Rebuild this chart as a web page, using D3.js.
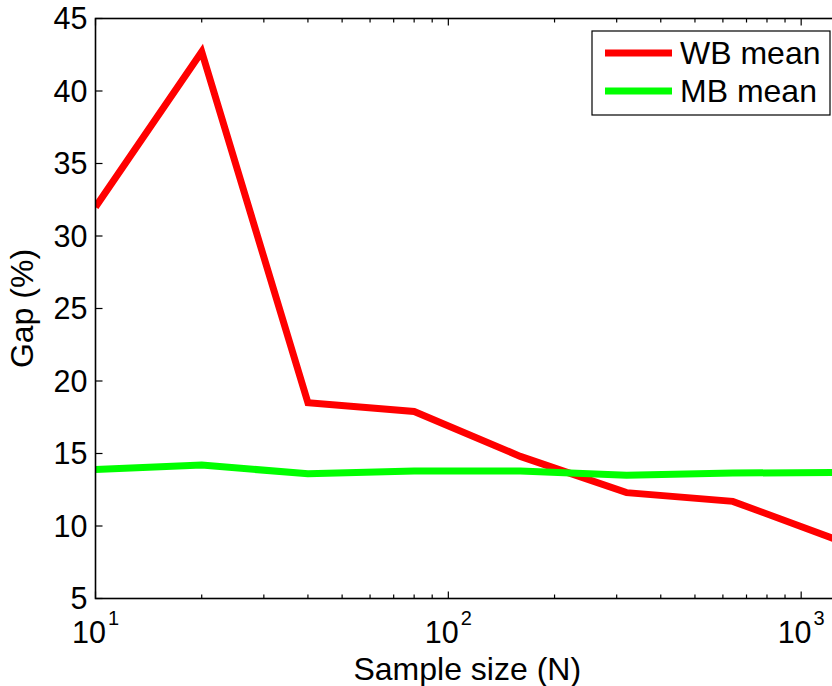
<!DOCTYPE html>
<html>
<head>
<meta charset="utf-8">
<script src="https://cdn.jsdelivr.net/npm/d3@7"></script>
<style>
    body { margin: 0; background: #fff; }
    svg { display: block; font-family: "Liberation Sans", Arial, sans-serif; }
    .tick-label { font-size: 30.5px; fill: #000; }
    .axis-title { font-size: 32px; fill: #000; }
    .legend-text { font-size: 32px; fill: #000; }
</style>
</head>
<body>
<div id="chart"></div>
<script>
const sampleSizes = [10, 20, 40, 80, 160, 320, 640, 1280];
const wbMean = [32.0, 42.7, 18.5, 17.9, 14.8, 12.3, 11.7, 9.0];
const mbMean = [13.9, 14.2, 13.6, 13.8, 13.8, 13.5, 13.65, 13.7];
const yTicks = [5, 10, 15, 20, 25, 30, 35, 40, 45];
const xMajorTicks = [10, 100, 1000];
const seriesNames = ["WB mean", "MB mean"];
const seriesColors = ["#ff0000", "#00ff00"];

const width = 832;
const height = 686;
const margin = { top: 18.5, right: -7, bottom: 87.5, left: 95.5 };

const svg = d3.select("#chart")
    .append("svg")
    .attr("width", width)
    .attr("height", height);

const x = d3.scaleLog()
    .domain([10, 1280])
    .range([margin.left, width - margin.right]);

const y = d3.scaleLinear()
    .domain([5, 45])
    .range([height - margin.bottom, margin.top]);

const x0 = x.range()[0], x1 = x.range()[1];
const y0 = y.range()[0], y1 = y.range()[1];

svg.append("clipPath")
    .attr("id", "plot-clip")
    .append("rect")
    .attr("x", x0)
    .attr("y", y1)
    .attr("width", x1 - x0)
    .attr("height", y0 - y1);

// minor + major x ticks on bottom and top (pointing inward)
const xMinor = [];
for (let d = 10; d <= 1000; d *= 10) {
    for (let k = 2; k <= 9; k++) {
        if (d * k <= 1280) xMinor.push(d * k);
    }
}

const ticks = svg.append("g")
    .attr("stroke", "#000")
    .attr("stroke-width", 1.2);

xMinor.forEach(v => {
    ticks.append("line").attr("x1", x(v)).attr("x2", x(v)).attr("y1", y0).attr("y2", y0 - 4);
    ticks.append("line").attr("x1", x(v)).attr("x2", x(v)).attr("y1", y1).attr("y2", y1 + 4);
});
xMajorTicks.forEach(v => {
    ticks.append("line").attr("x1", x(v)).attr("x2", x(v)).attr("y1", y0).attr("y2", y0 - 7);
    ticks.append("line").attr("x1", x(v)).attr("x2", x(v)).attr("y1", y1).attr("y2", y1 + 7);
});
yTicks.forEach(v => {
    ticks.append("line").attr("x1", x0).attr("x2", x0 + 7).attr("y1", y(v)).attr("y2", y(v));
    ticks.append("line").attr("x1", x1).attr("x2", x1 - 7).attr("y1", y(v)).attr("y2", y(v));
});

// y tick labels
svg.selectAll(".ylab")
    .data(yTicks)
    .enter()
    .append("text")
    .attr("class", "tick-label")
    .attr("x", x0 - 8)
    .attr("y", d => y(d))
    .attr("dy", "0.36em")
    .attr("text-anchor", "end")
    .text(d => d);

// x tick labels with exponent
const xl = svg.selectAll(".xlab")
    .data(xMajorTicks)
    .enter()
    .append("text")
    .attr("class", "tick-label")
    .attr("x", d => x(d))
    .attr("y", 643)
    .attr("text-anchor", "middle");
xl.append("tspan").text("10");
xl.append("tspan")
    .attr("dy", -18)
    .attr("dx", 2)
    .style("font-size", "20px")
    .text(d => Math.round(Math.log10(d)));

// lines
const line = d3.line()
    .x((d, i) => x(sampleSizes[i]))
    .y(d => y(d));

const plot = svg.append("g").attr("clip-path", "url(#plot-clip)");
[wbMean, mbMean].forEach((s, i) => {
    plot.append("path")
        .datum(s)
        .attr("fill", "none")
        .attr("stroke", seriesColors[i])
        .attr("stroke-width", 7)
        .attr("stroke-linejoin", "miter")
        .attr("d", line);
});

// frame
svg.append("rect")
    .attr("x", x0)
    .attr("y", y1)
    .attr("width", x1 - x0)
    .attr("height", y0 - y1)
    .attr("fill", "none")
    .attr("stroke", "#000")
    .attr("stroke-width", 1.6);

// axis titles
svg.append("text")
    .attr("class", "axis-title")
    .attr("x", (x0 + x1) / 2)
    .attr("y", 680)
    .attr("text-anchor", "middle")
    .text("Sample size (N)");

svg.append("text")
    .attr("class", "axis-title")
    .attr("transform", `translate(33,${(y0 + y1) / 2}) rotate(-90)`)
    .attr("text-anchor", "middle")
    .text("Gap (%)");

// legend
const legend = svg.append("g").attr("transform", "translate(592,31)");
legend.append("rect")
    .attr("width", 238)
    .attr("height", 84)
    .attr("fill", "#fff")
    .attr("stroke", "#000")
    .attr("stroke-width", 1.2);

const rows = legend.selectAll(".legend-row")
    .data(seriesNames)
    .enter()
    .append("g")
    .attr("transform", (_, i) => `translate(0,${22 + i * 38})`);

rows.append("line")
    .attr("x1", 13)
    .attr("x2", 80)
    .attr("stroke", (_, i) => seriesColors[i])
    .attr("stroke-width", 7);

rows.append("text")
    .attr("class", "legend-text")
    .attr("x", 88)
    .attr("y", 11)
    .text(d => d);
</script>
</body>
</html>
